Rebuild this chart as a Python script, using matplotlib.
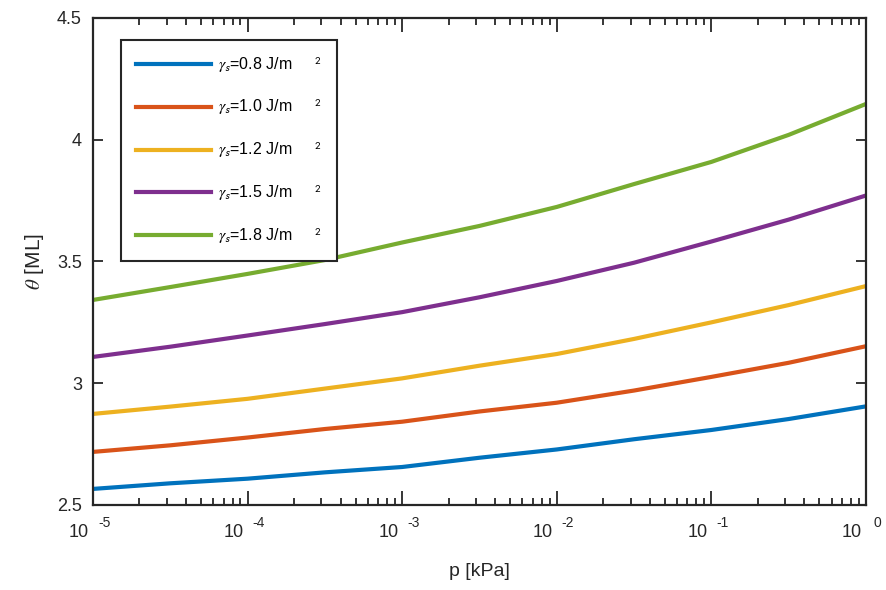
import matplotlib
matplotlib.use("Agg")
import matplotlib.pyplot as plt
from matplotlib.ticker import LogLocator, NullFormatter, FixedLocator

plt.rcParams['font.family'] = ['Liberation Sans', 'DejaVu Sans']
plt.rcParams['mathtext.fontset'] = 'stix'

# pressure in kPa, half-decade steps
p = [1e-5, 10**-4.5, 1e-4, 10**-3.5, 1e-3, 10**-2.5, 1e-2, 10**-1.5, 1e-1, 10**-0.5, 1e0]

theta_08 = [2.566, 2.589, 2.608, 2.634, 2.656, 2.694, 2.728, 2.770, 2.808, 2.853, 2.905]
theta_10 = [2.718, 2.745, 2.777, 2.812, 2.842, 2.884, 2.920, 2.970, 3.026, 3.084, 3.152]
theta_12 = [2.874, 2.904, 2.936, 2.978, 3.020, 3.072, 3.120, 3.182, 3.250, 3.321, 3.399]
theta_15 = [3.108, 3.150, 3.196, 3.243, 3.292, 3.353, 3.420, 3.495, 3.582, 3.672, 3.771]
theta_18 = [3.342, 3.395, 3.449, 3.506, 3.578, 3.646, 3.724, 3.818, 3.909, 4.020, 4.147]

series = [theta_08, theta_10, theta_12, theta_15, theta_18]
gammas = ["0.8", "1.0", "1.2", "1.5", "1.8"]
colors = ["#0072BD", "#D95319", "#EDB120", "#7E2F8E", "#77AC30"]

fig = plt.figure(figsize=(8.87, 5.90), dpi=100)
ax = fig.add_axes([0.1048, 0.1441, 0.8715, 0.8254])

for ys, g, c in zip(series, gammas, colors):
    ax.plot(p, ys, color=c, linewidth=3, solid_joinstyle='round',
            label=r'$\gamma_{\mathsf{s}}$=' + g + r' J/m$\qquad{}^{\mathsf{2}}$')

ax.set_xscale('log')
ax.set_xlim(1e-5, 1)
ax.set_ylim(2.5, 4.5)
ax.set_yticks([2.5, 3, 3.5, 4, 4.5])
ax.set_yticklabels(["2.5", "3", "3.5", "4", "4.5"])

ax.xaxis.set_major_locator(FixedLocator([1e-5, 1e-4, 1e-3, 1e-2, 1e-1, 1]))
ax.xaxis.set_minor_locator(LogLocator(base=10, subs=range(2, 10)))
ax.xaxis.set_major_formatter(NullFormatter())
ax.xaxis.set_minor_formatter(NullFormatter())

ax.tick_params(which='both', direction='in', top=True, right=True, width=1.3, colors='#262626')
ax.tick_params(axis='y', which='major', length=7, labelsize=13, pad=8, labelcolor='#262626')
ax.tick_params(axis='x', which='major', length=10)
ax.tick_params(axis='x', which='minor', length=5)
for s in ax.spines.values():
    s.set_linewidth(1.6)
    s.set_color('#262626')

# MATLAB-style decade labels with a detached exponent
for e in range(-5, 1):
    ax.annotate("10", xy=(10.0**e, 0), xycoords=('data', 'axes fraction'),
                xytext=(-10, -20), textcoords='offset points',
                ha='center', va='center', fontsize=13, color='#262626')
    ax.annotate(str(e), xy=(10.0**e, 0), xycoords=('data', 'axes fraction'),
                xytext=(8, -13), textcoords='offset points',
                ha='center', va='center', fontsize=10, color='#262626')

ax.set_xlabel("p [kPa]", fontsize=14, labelpad=38, color='#262626')
ax.set_ylabel(r'$\theta$ [ML]', fontsize=15, labelpad=8, color='#262626')

leg = ax.legend(loc='upper left', bbox_to_anchor=(0.036, 0.955), fontsize=11.5,
                labelspacing=1.45, handlelength=4.7, handletextpad=0.45,
                borderpad=0.95, fancybox=False, framealpha=1, borderaxespad=0)
leg.get_frame().set_edgecolor('#262626')
leg.get_frame().set_linewidth(1.5)

fig.savefig("out.png", dpi=100)
